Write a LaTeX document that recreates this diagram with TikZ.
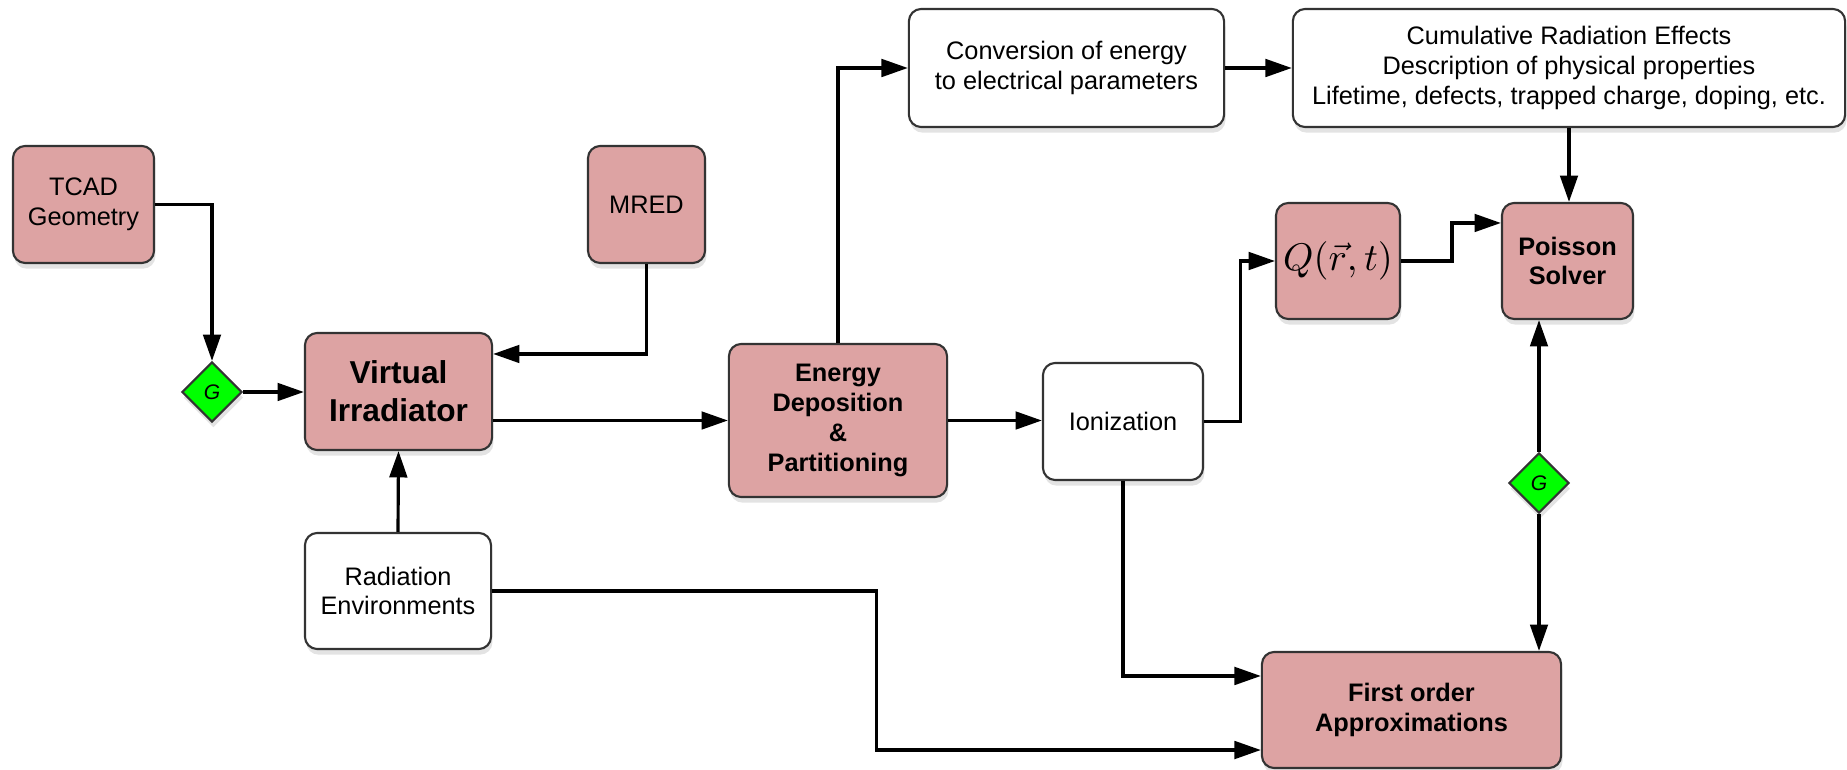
\documentclass[tikz,border=0pt]{standalone}
\usepackage{fontspec}
\setmainfont{Liberation Sans}
\usetikzlibrary{arrows.meta,shapes.geometric,shadows}
\definecolor{boxpink}{RGB}{221,163,163}
\definecolor{gnode}{RGB}{0,255,0}
\begin{document}
\begin{tikzpicture}[x=0.01cm,y=-0.01cm,
    block/.style={draw=black!80,line width=0.6pt,rounded corners=3.5pt,align=center,inner sep=2pt,
        font=\fontsize{7.2}{8.5}\selectfont,
        drop shadow={shadow xshift=0.4pt,shadow yshift=-1.6pt,opacity=0.22}},
    pinkbox/.style={block,fill=boxpink},
    whitebox/.style={block,fill=white},
    boldtext/.style={font=\fontsize{7.2}{8.5}\selectfont\bfseries},
    gate/.style={diamond,draw=black!80,line width=0.6pt,fill=gnode,inner sep=0pt,
        minimum width=0.6cm,minimum height=0.6cm,font=\fontsize{6}{7}\selectfont\itshape,
        drop shadow={shadow xshift=0.4pt,shadow yshift=-1.6pt,opacity=0.22}},
    link/.style={line width=0.9pt,-{Triangle[length=7.5pt,width=5pt]}}]
    \useasboundingbox (0,0) rectangle (1847,770);
    \node[pinkbox,minimum width=1.41cm,minimum height=1.17cm] (tcad) at (83.5,204.5) {TCAD\\Geometry};
    \node[gate] (g1) at (212,392) {G};
    \node[pinkbox,minimum width=1.87cm,minimum height=1.17cm,font=\fontsize{9}{10.9}\selectfont\bfseries] (virt) at (398.5,391.5) {Virtual\\Irradiator};
    \node[pinkbox,minimum width=1.17cm,minimum height=1.17cm] (mred) at (646.5,204.5) {MRED};
    \node[pinkbox,boldtext,minimum width=2.18cm,minimum height=1.53cm] (energy) at (838,420.5) {Energy\\Deposition\\\&\\Partitioning};
    \node[whitebox,minimum width=1.60cm,minimum height=1.17cm] (ion) at (1123,421.5) {Ionization};
    \node[whitebox,minimum width=3.15cm,minimum height=1.18cm] (conv) at (1066.5,68) {Conversion of energy\\to electrical parameters};
    \node[whitebox,minimum width=5.52cm,minimum height=1.18cm] (cum) at (1569,68) {Cumulative Radiation Effects\\Description of physical properties\\Lifetime, defects, trapped charge, doping, etc.};
    \node[pinkbox,minimum width=1.18cm,minimum height=1.16cm,font=\fontsize{11}{13}\selectfont] (q) at (1338,261) {$Q(\vec{r},t)$};
    \node[pinkbox,boldtext,minimum width=1.31cm,minimum height=1.16cm] (poisson) at (1567.5,261) {Poisson\\Solver};
    \node[gate] (g2) at (1539,483) {G};
    \node[whitebox,minimum width=1.86cm,minimum height=1.16cm] (rad) at (398,591) {Radiation\\Environments};
    \node[pinkbox,boldtext,minimum width=2.99cm,minimum height=1.16cm] (first) at (1411.5,710) {First order\\Approximations};

    \draw[link] (tcad.east) -| (g1.north);
    \draw[link] (g1.east) -- (g1.east -| virt.west);
    \draw[link] (mred.south) |- ([yshift=0.375cm]virt.east);
    \draw[link] (rad.north) -- (virt.south);
    \draw[link] (energy.west -| virt.east) -- (energy.west);
    \draw[link] (energy.north) |- (conv.west);
    \draw[link] (conv.east) -- (cum.west);
    \draw[link] (energy.east) -- (energy.east -| ion.west);
    \draw[link] (ion.east) -- ++(36,0) |- (q.west);
    \draw[link] (q.east) -- ++(51,0) |- ([yshift=0.38cm]poisson.west);
    \draw[link] (cum.south) -- (cum.south |- poisson.north);
    \draw[link] (g2.north) -- (g2.north |- poisson.south);
    \draw[link] (g2.south) -- (g2.south |- first.north);
    \draw[link] (ion.south) |- ([yshift=0.34cm]first.west);
    \draw[link] (rad.east) -- ++(384,0) |- ([yshift=-0.4cm]first.west);
\end{tikzpicture}
\end{document}
